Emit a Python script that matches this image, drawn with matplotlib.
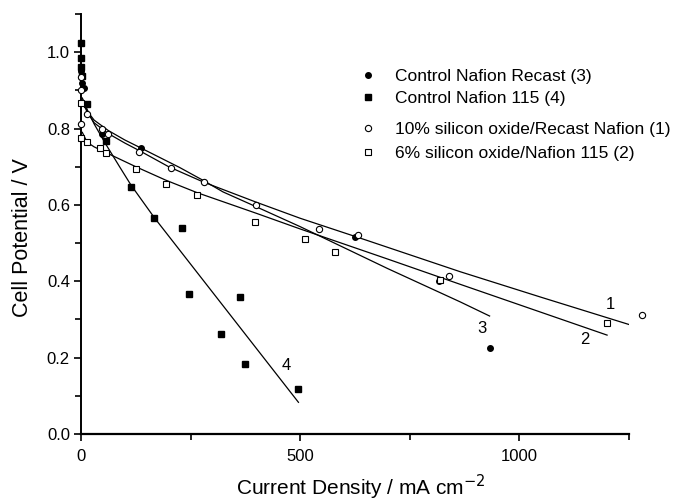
import matplotlib
matplotlib.use("Agg")
import matplotlib.pyplot as plt

plt.rcParams['font.family'] = ['Liberation Sans', 'DejaVu Sans']

# measured points
recast_x = [1, 3, 7, 47, 137, 626, 816, 934]
recast_y = [0.95, 0.92, 0.905, 0.787, 0.750, 0.517, 0.401, 0.224]

n115_x = [0, 0, 0, 2, 14, 58, 114, 167, 230, 246, 320, 362, 375, 495]
n115_y = [1.023, 0.986, 0.962, 0.937, 0.864, 0.768, 0.647, 0.566, 0.540,
          0.366, 0.262, 0.360, 0.184, 0.119]

si10_x = [0, 0, 0, 14, 47, 61, 133, 205, 281, 400, 543, 632, 839, 1279]
si10_y = [0.934, 0.900, 0.813, 0.837, 0.800, 0.787, 0.739, 0.697, 0.660,
          0.600, 0.538, 0.521, 0.414, 0.312]

si6_x = [0, 0, 14, 43, 57, 125, 193, 265, 397, 510, 579, 820, 1200]
si6_y = [0.866, 0.776, 0.764, 0.748, 0.735, 0.695, 0.654, 0.626, 0.556,
         0.510, 0.477, 0.403, 0.292]

# fitted curves
fit1_x = [4, 14, 30, 62, 100, 135, 200, 279, 400, 500, 650, 865, 1050, 1255]
fit1_y = [0.870, 0.843, 0.815, 0.787, 0.762, 0.741, 0.700, 0.660, 0.607,
          0.565, 0.508, 0.425, 0.358, 0.285]
fit2_x = [3, 14, 30, 57, 125, 193, 265, 400, 500, 700, 865, 1200]
fit2_y = [0.790, 0.764, 0.752, 0.737, 0.700, 0.665, 0.632, 0.578, 0.537,
          0.458, 0.392, 0.259]
fit3_x = [4, 14, 30, 62, 100, 135, 225, 279, 324, 400, 500, 700, 865, 932]
fit3_y = [0.875, 0.846, 0.822, 0.795, 0.770, 0.750, 0.698, 0.664, 0.634,
          0.595, 0.543, 0.433, 0.346, 0.309]
fit4_x = [3, 14, 30, 55, 88, 114, 167, 496]
fit4_y = [0.880, 0.850, 0.812, 0.762, 0.700, 0.652, 0.567, 0.083]

curve_labels = ['1', '2', '3', '4']
label_x = [1208, 1150, 915, 468]
label_y = [0.338, 0.248, 0.277, 0.180]

fig = plt.figure(figsize=(6.73, 5.04), dpi=100)
ax = fig.add_axes([81 / 673, 70 / 504, 548 / 673, 420 / 504])

for fx, fy in [(fit1_x, fit1_y), (fit2_x, fit2_y), (fit3_x, fit3_y), (fit4_x, fit4_y)]:
    ax.plot(fx, fy, color='black', lw=0.9, zorder=2)

h3, = ax.plot(recast_x, recast_y, 'o', color='black', ms=4, ls='none',
              clip_on=False, zorder=3, label='Control Nafion Recast (3)')
h4, = ax.plot(n115_x, n115_y, 's', color='black', ms=3.8, ls='none',
              clip_on=False, zorder=3, label='Control Nafion 115 (4)')
h1, = ax.plot(si10_x, si10_y, 'o', mfc='white', mec='black', mew=0.8, ms=4.5,
              ls='none', clip_on=False, zorder=4,
              label='10% silicon oxide/Recast Nafion (1)')
h2, = ax.plot(si6_x, si6_y, 's', mfc='white', mec='black', mew=0.8, ms=4,
              ls='none', clip_on=False, zorder=4,
              label='6% silicon oxide/Nafion 115 (2)')

for t, x, y in zip(curve_labels, label_x, label_y):
    ax.text(x, y, t, fontsize=12, ha='center', va='center')

ax.set_xlim(0, 1250)
ax.set_ylim(0, 1.1)
ax.set_xticks([0, 500, 1000])
ax.set_xticks([250, 750, 1250], minor=True)
ax.set_yticks([0.0, 0.2, 0.4, 0.6, 0.8, 1.0])
ax.set_yticks([0.1, 0.3, 0.5, 0.7, 0.9, 1.1], minor=True)
ax.set_yticklabels(['0.0', '0.2', '0.4', '0.6', '0.8', '1.0'])
ax.tick_params(which='major', direction='out', length=5, width=1.2, labelsize=12)
ax.tick_params(axis='x', which='major', pad=6)
ax.tick_params(axis='y', which='major', pad=3)
ax.tick_params(which='minor', direction='out', length=4, width=1.2)

ax.spines['top'].set_visible(False)
ax.spines['right'].set_visible(False)
ax.spines['left'].set_linewidth(1.4)
ax.spines['bottom'].set_linewidth(1.6)

ax.set_xlabel('Current Density / mA cm$^{-2}$', fontsize=15)
ax.set_ylabel('Cell Potential / V', fontsize=15.5)
ax.xaxis.set_label_coords(0.511, -0.093)
ax.yaxis.set_label_coords(-0.088, 0.468)

leg_kw = dict(frameon=False, fontsize=12.5, handlelength=1.0, handletextpad=1.05,
              borderpad=0, borderaxespad=0, loc='upper left',
              bbox_transform=fig.transFigure)
leg1 = ax.legend(handles=[h3, h4], labelspacing=0.4,
                 bbox_to_anchor=(359 / 673, 1 - 69 / 504), **leg_kw)
ax.add_artist(leg1)
ax.legend(handles=[h1, h2], labelspacing=0.5,
          bbox_to_anchor=(359 / 673, 1 - 122 / 504), **leg_kw)

fig.savefig('out.png', dpi=100)
